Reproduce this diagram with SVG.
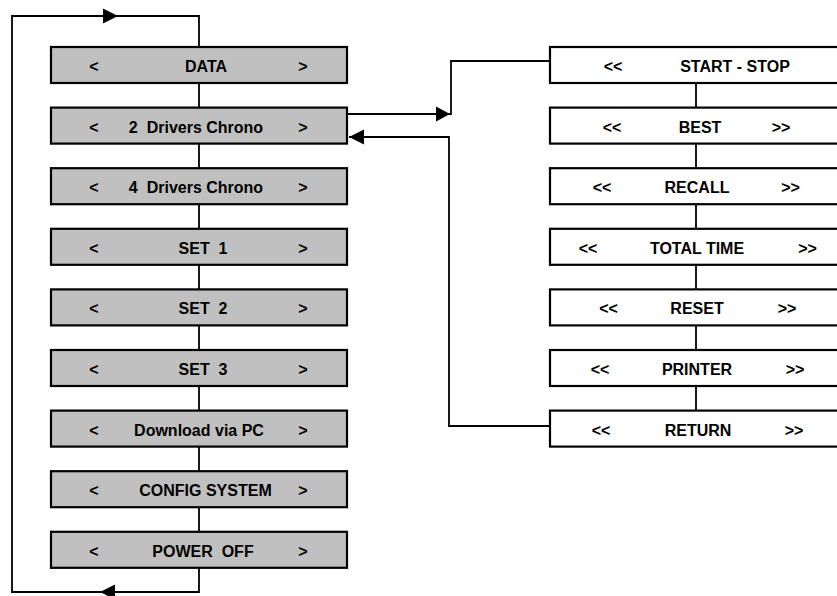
<svg xmlns="http://www.w3.org/2000/svg" width="837" height="596" viewBox="0 0 837 596">
<style>
.l{fill:#c0c0c0;stroke:#000;stroke-width:2.2}
.r{fill:#fff;stroke:#000;stroke-width:2.2}
.c{fill:none;stroke:#000;stroke-width:1.8}
.a{fill:#000;stroke:none}
text{font-family:"Liberation Sans",Arial,sans-serif;font-weight:bold;font-size:16px;fill:#000;text-anchor:middle}
</style>
<rect width="837" height="596" fill="#fff"/>
<g id="connectors">
<path class="c" d="M199,47 V16 H12 V592 H199 V568"/>
<path class="c" d="M199,83 V532"/>
<path class="c" d="M696,83 V411"/>
<path class="c" d="M347,114 H451 V61 H550"/>
<path class="c" d="M550,426 H449 V137 H349"/>
<polygon class="a" points="118,16 103,8.5 103,23.5"/>
<polygon class="a" points="100,592 115,584.5 115,599.5"/>
<polygon class="a" points="450,114 436,106.5 436,121.5"/>
<polygon class="a" points="349,137 364,129.5 364,144.5"/>
</g>
<g id="n-data"><rect class="l" x="51" y="47" width="296" height="36"/><text x="94" y="72">&lt;</text><text x="206" y="72">DATA</text><text x="303" y="72">&gt;</text></g>
<g id="n-2drivers"><rect class="l" x="51" y="107.6" width="296" height="36"/><text x="94" y="132.6">&lt;</text><text x="196" y="132.6" xml:space="preserve">2  Drivers Chrono</text><text x="303" y="132.6">&gt;</text></g>
<g id="n-4drivers"><rect class="l" x="51" y="168.2" width="296" height="36"/><text x="94" y="193.2">&lt;</text><text x="196" y="193.2" xml:space="preserve">4  Drivers Chrono</text><text x="303" y="193.2">&gt;</text></g>
<g id="n-set1"><rect class="l" x="51" y="228.8" width="296" height="36"/><text x="94" y="253.8">&lt;</text><text x="203" y="253.8" xml:space="preserve">SET  1</text><text x="303" y="253.8">&gt;</text></g>
<g id="n-set2"><rect class="l" x="51" y="289.4" width="296" height="36"/><text x="94" y="314.4">&lt;</text><text x="203" y="314.4" xml:space="preserve">SET  2</text><text x="303" y="314.4">&gt;</text></g>
<g id="n-set3"><rect class="l" x="51" y="350" width="296" height="36"/><text x="94" y="375">&lt;</text><text x="203" y="375" xml:space="preserve">SET  3</text><text x="303" y="375">&gt;</text></g>
<g id="n-download"><rect class="l" x="51" y="410.6" width="296" height="36"/><text x="94" y="435.6">&lt;</text><text x="199" y="435.6">Download via PC</text><text x="303" y="435.6">&gt;</text></g>
<g id="n-config"><rect class="l" x="51" y="471.2" width="296" height="36"/><text x="94" y="496.2">&lt;</text><text x="205.5" y="496.2">CONFIG SYSTEM</text><text x="303" y="496.2">&gt;</text></g>
<g id="n-power"><rect class="l" x="51" y="531.8" width="296" height="36"/><text x="94" y="556.8">&lt;</text><text x="203" y="556.8" xml:space="preserve">POWER  OFF</text><text x="303" y="556.8">&gt;</text></g>
<g id="n-startstop"><rect class="r" x="550" y="47" width="300" height="36"/><text x="613" y="72">&lt;&lt;</text><text x="735" y="72">START - STOP</text></g>
<g id="n-best"><rect class="r" x="550" y="107.6" width="300" height="36"/><text x="612" y="132.6">&lt;&lt;</text><text x="700" y="132.6">BEST</text><text x="781" y="132.6">&gt;&gt;</text></g>
<g id="n-recall"><rect class="r" x="550" y="168.2" width="300" height="36"/><text x="602" y="193.2">&lt;&lt;</text><text x="697" y="193.2">RECALL</text><text x="790.5" y="193.2">&gt;&gt;</text></g>
<g id="n-total"><rect class="r" x="550" y="228.8" width="300" height="36"/><text x="588" y="253.8">&lt;&lt;</text><text x="697" y="253.8">TOTAL TIME</text><text x="807.5" y="253.8">&gt;&gt;</text></g>
<g id="n-reset"><rect class="r" x="550" y="289.4" width="300" height="36"/><text x="608.5" y="314.4">&lt;&lt;</text><text x="697" y="314.4">RESET</text><text x="787" y="314.4">&gt;&gt;</text></g>
<g id="n-printer"><rect class="r" x="550" y="350" width="300" height="36"/><text x="600" y="375">&lt;&lt;</text><text x="697" y="375">PRINTER</text><text x="795" y="375">&gt;&gt;</text></g>
<g id="n-return"><rect class="r" x="550" y="410.6" width="300" height="36"/><text x="601" y="435.6">&lt;&lt;</text><text x="698" y="435.6">RETURN</text><text x="794" y="435.6">&gt;&gt;</text></g>
</svg>
